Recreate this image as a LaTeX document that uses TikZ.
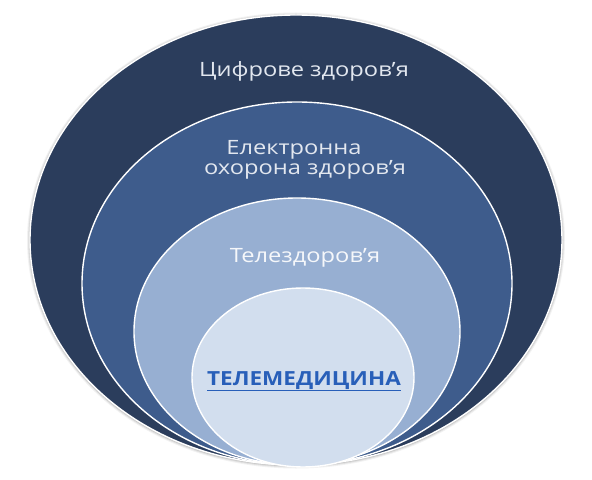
\documentclass[tikz,border=0pt]{standalone}
\usepackage{fontspec}
\setmainfont{Open Sans}
\newfontfamily\labelfont[FakeStretch=1.2]{Open Sans}
\newfontfamily\titlefont[FakeStretch=1.16]{Open Sans Bold}
\usetikzlibrary{shapes.geometric}
\definecolor{ringA}{RGB}{43,61,92}
\definecolor{ringB}{RGB}{62,92,140}
\definecolor{ringC}{RGB}{151,175,210}
\definecolor{ringD}{RGB}{210,222,238}
\definecolor{lbl}{RGB}{226,231,239}
\definecolor{ttl}{RGB}{40,95,185}
\tikzset{
  ring/.style={ellipse, draw=white, line width=1.4bp, inner sep=0pt, outer sep=0pt},
  lab/.style={text=lbl, font=\labelfont\fontsize{19.8}{22}\selectfont, inner sep=0pt, anchor=base},
}
\begin{document}
\begin{tikzpicture}[x=1bp,y=-1bp]
\useasboundingbox[fill=white] (0,0) rectangle (592,480);
% soft shadow of the outer ring
\foreach \w/\o in {6/0.05,4/0.07,2/0.1}
  \draw[black, opacity=\o, line width=\w bp] (296,240.5) ellipse [x radius=266, y radius=225];
\node[ring, fill=ringA, minimum width=532bp, minimum height=450bp] (outer) at (296,240) {};
\node[ring, fill=ringB, minimum width=430bp, minimum height=363bp] (ehealth) at (297,283.5) {};
\node[ring, fill=ringC, minimum width=326bp, minimum height=267bp] (tele) at (297,331.5) {};
\node[ring, fill=ringD, minimum width=222bp, minimum height=179bp] (telemed) at (303,377.5) {};
\node[lab] (t1) at (304,77) {Цифрове здоров’я};
\node[lab] (t2a) at (294,154.5) {Електронна};
\node[lab] (t2b) at (305,175) {охорона здоров’я};
\node[lab, text=white!90!ringC] (t3) at (305,262) {Телездоров’я};
\node[anchor=base, inner sep=0pt, text=ttl, font=\titlefont\fontsize{19.5}{22}\selectfont] (t4) at (304,385) {\underline{ТЕЛЕМЕДИЦИНА}};
\end{tikzpicture}
\end{document}
